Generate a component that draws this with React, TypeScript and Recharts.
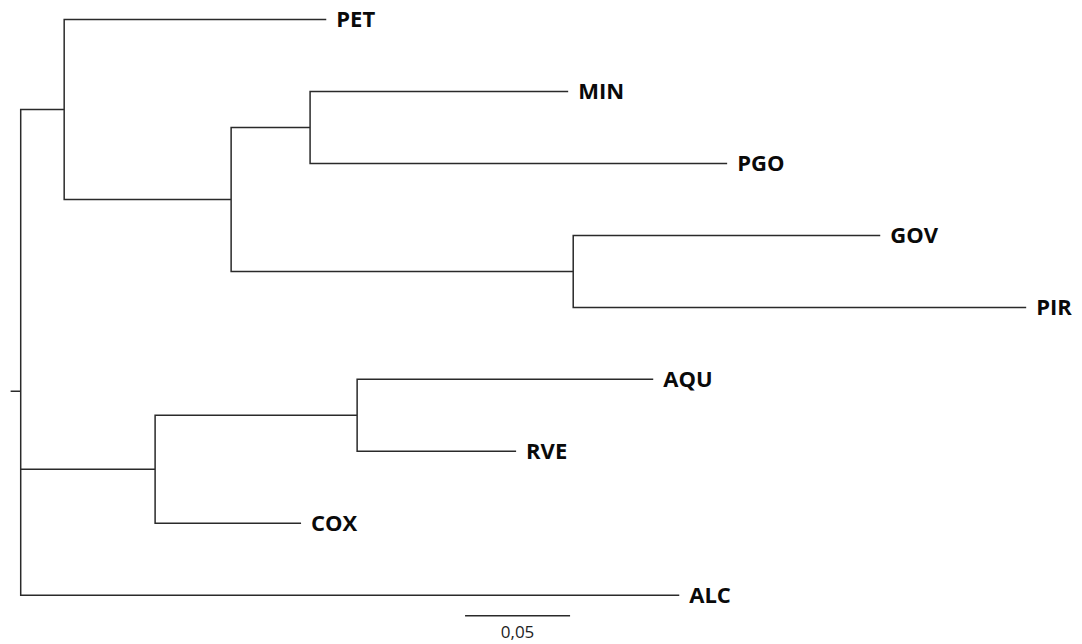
import React from "react";
import { ComposedChart, Line, Scatter, XAxis, YAxis, ReferenceLine } from "recharts";

// leaves, top to bottom
const leafNames = ["PET", "MIN", "PGO", "GOV", "PIR", "AQU", "RVE", "COX", "ALC"];
const leafParents = ["N1", "N3", "N3", "N4", "N4", "N6", "N6", "N5", "root"];
const leafBranches = [0.1248, 0.1229, 0.1986, 0.1462, 0.2157, 0.141, 0.0757, 0.0695, 0.3136];

// internal nodes (root branch = small stub drawn to the left)
const nodeNames = ["root", "N1", "N2", "N3", "N4", "N5", "N6"];
const nodeParents = ["", "root", "N1", "N2", "N2", "root", "N5"];
const nodeBranches = [0.0048, 0.0207, 0.0795, 0.0376, 0.1629, 0.064, 0.0962];

const scaleBarValue = 0.05;
const scaleBarLabel = "0,05";

type TreeNode = { name: string; parent: string; branch: number; leaf: number | null };

const allNodes: TreeNode[] = [
  ...nodeNames.map((name, i) => ({ name, parent: nodeParents[i], branch: nodeBranches[i], leaf: null })),
  ...leafNames.map((name, i) => ({ name, parent: leafParents[i], branch: leafBranches[i], leaf: i })),
];

const posX: Record<string, number> = {};
const posY: Record<string, number> = {};

const place = (node: TreeNode, parentX: number) => {
  const x = node.parent ? parentX + node.branch : 0;
  posX[node.name] = x;
  const kids = allNodes.filter((n) => n.parent === node.name);
  kids.forEach((k) => place(k, x));
  posY[node.name] =
    node.leaf !== null ? node.leaf : kids.reduce((s, k) => s + posY[k.name], 0) / kids.length;
};
place(allNodes[0], 0);

const segments: { x: number; y: number | null }[] = [];
segments.push({ x: -allNodes[0].branch, y: posY.root }, { x: 0, y: posY.root }, { x: 0, y: null });
allNodes.forEach((n) => {
  if (!n.parent) return;
  const px = posX[n.parent];
  const py = posY[n.parent];
  segments.push(
    { x: px, y: py },
    { x: px, y: posY[n.name] },
    { x: posX[n.name], y: posY[n.name] },
    { x: posX[n.name], y: null }
  );
});

const leafPoints = leafNames.map((name) => ({ x: posX[name], y: posY[name], name }));

const LeafLabel = (props: any) => {
  const { cx, cy, payload } = props;
  return (
    <text
      x={cx + 10}
      y={cy}
      dy={7.5}
      fontFamily="Open Sans"
      fontWeight="bold"
      fontSize={22}
      fill="#0a0a0a"
    >
      {payload.name}
    </text>
  );
};

export default function App() {
  return (
    <div style={{ position: "absolute", left: 0, top: 0, background: "#fff" }}>
      <ComposedChart
        width={1082}
        height={644}
        data={segments}
        margin={{ top: 0, right: 0, bottom: 0, left: 0 }}
      >
        <XAxis dataKey="x" type="number" domain={[-0.00986, 0.50538]} allowDataOverflow hide />
        <YAxis dataKey="y" type="number" domain={[-0.271, 8.677]} reversed allowDataOverflow hide />
        <Line
          type="linear"
          dataKey="y"
          stroke="#2a2a2a"
          strokeWidth={1.5}
          dot={false}
          activeDot={false}
          connectNulls={false}
          isAnimationActive={false}
        />
        <Scatter data={leafPoints} dataKey="y" shape={<LeafLabel />} isAnimationActive={false} />
        <ReferenceLine
          segment={[
            { x: 0.2116, y: 8.284 },
            { x: 0.2116 + scaleBarValue, y: 8.284 },
          ]}
          stroke="#2a2a2a"
          strokeWidth={1.5}
          label={{
            value: scaleBarLabel,
            position: "bottom",
            offset: 10,
            fontFamily: "Open Sans",
            fontSize: 17,
            fill: "#222",
          }}
        />
      </ComposedChart>
    </div>
  );
}
